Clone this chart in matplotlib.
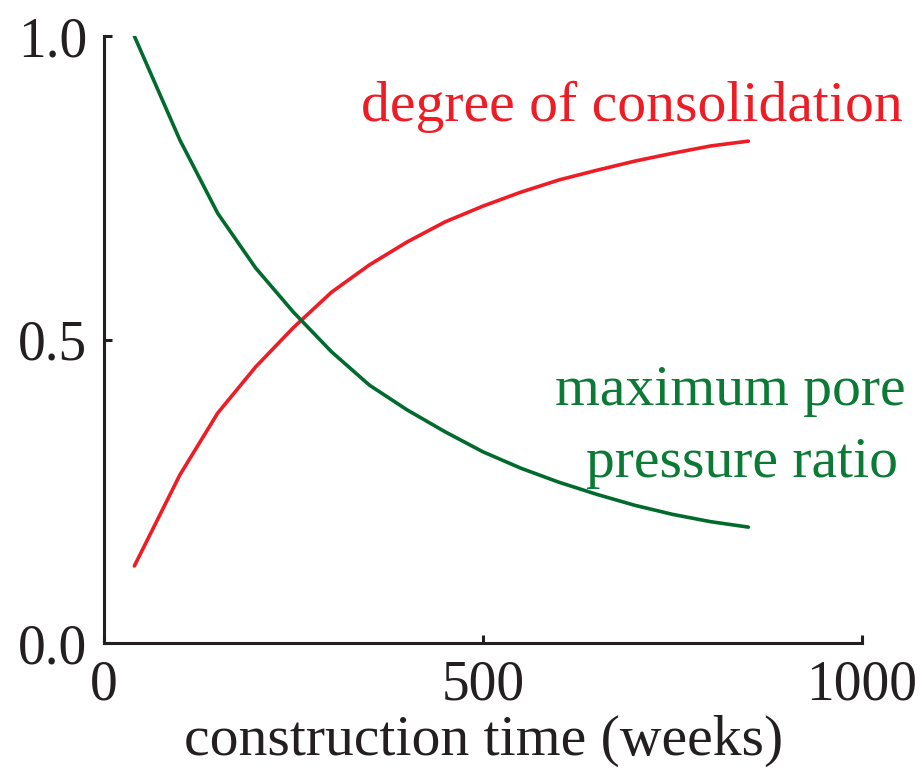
import numpy as np
import matplotlib
matplotlib.use("Agg")
import matplotlib.pyplot as plt

# values, every 50 weeks
weeks = [40, 100, 150, 200, 250, 300, 350, 400, 450, 500, 550, 600, 650, 700, 750, 800, 850]
consolidation = [0.127, 0.277, 0.379, 0.455, 0.52, 0.578, 0.623, 0.661, 0.694, 0.72,
                 0.743, 0.763, 0.779, 0.794, 0.807, 0.819, 0.827]
pore_ratio = [1.0, 0.829, 0.708, 0.618, 0.545, 0.48, 0.425, 0.384, 0.348, 0.315,
              0.288, 0.265, 0.245, 0.227, 0.212, 0.2, 0.191]

x_ticks = [0, 500, 1000]
y_ticks = [0.0, 0.5, 1.0]

RED = '#ee1c25'
GREEN = '#006b2d'
GREEN_TXT = '#0b7a35'
INK = '#231f20'

plt.rcParams['font.family'] = ['Liberation Serif', 'DejaVu Serif']

fig = plt.figure(figsize=(9.24, 7.69), dpi=100)
ax = fig.add_axes([0.1126, 0.1638, 0.8204, 0.7892])

ax.plot(weeks, consolidation, color=RED, lw=2.6, solid_capstyle='round')
ax.plot(weeks, pore_ratio, color=GREEN, lw=2.6, solid_capstyle='round')

ax.set_xlim(0, 1000)
ax.set_ylim(0, 1)
ax.set_xticks(x_ticks)
ax.set_xticklabels([str(v) for v in x_ticks])
ax.set_yticks(y_ticks)
ax.set_yticklabels([f'{v:.1f}' for v in y_ticks])

for s in ['top', 'right']:
    ax.spines[s].set_visible(False)
for s in ['left', 'bottom']:
    ax.spines[s].set_linewidth(2.2)
    ax.spines[s].set_color(INK)
ax.tick_params(direction='in', length=6, width=2.2, color=INK,
               labelsize=40, labelcolor=INK, pad=12)

ax.set_xlabel('construction time (weeks)', fontsize=41.5, color=INK, labelpad=2)

# curve labels
ax.text(1.053, 0.86, 'degree of consolidation', transform=ax.transAxes,
        ha='right', va='baseline', fontsize=41.5, color=RED, clip_on=False)
ax.text(0.826, 0.392, 'maximum pore', transform=ax.transAxes,
        ha='center', va='baseline', fontsize=41.5, color=GREEN_TXT, clip_on=False)
ax.text(0.842, 0.273, 'pressure ratio', transform=ax.transAxes,
        ha='center', va='baseline', fontsize=41.5, color=GREEN_TXT, clip_on=False)

fig.savefig('out.png', dpi=100)
